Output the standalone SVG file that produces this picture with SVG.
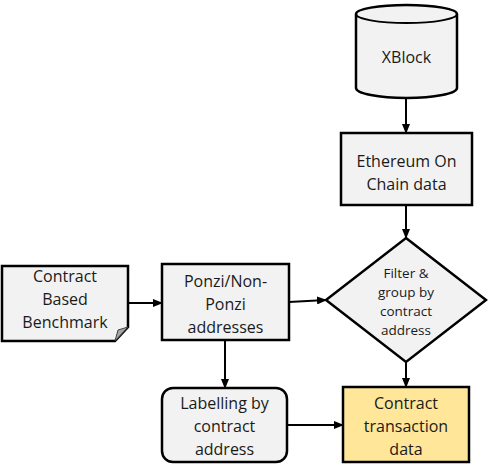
<svg xmlns="http://www.w3.org/2000/svg" width="488" height="464" viewBox="0 0 488 464">
<defs>
<marker id="ah" markerWidth="10" markerHeight="8" refX="9" refY="4" orient="auto" markerUnits="userSpaceOnUse">
<path d="M0,0 L10,4 L0,8 Z" fill="#000"/>
</marker>
<style>
.n{fill:#F2F2F2;stroke:#000;stroke-width:2.5}
.y{fill:#FFE699;stroke:#000;stroke-width:2.5}
.t{font-family:"Open Sans","Liberation Sans",sans-serif;font-size:16px;fill:#1a1a1a;text-anchor:middle}
.s{font-size:13.5px}
.c{stroke:#000;stroke-width:2;fill:none;marker-end:url(#ah)}
</style>
</defs>
<rect width="488" height="464" fill="#fff"/>
<g id="xblock">
<path class="n" d="M356,14 L356,88 A50.5,10 0 0 0 457,88 L457,14 A50.5,9 0 0 0 356,14 Z"/>
<path d="M356,14 A50.5,9 0 0 0 457,14" fill="none" stroke="#000" stroke-width="2"/>
<text class="t" x="406.5" y="63">XBlock</text>
</g>
<g id="ethereum">
<rect class="n" x="341" y="133" width="131" height="72"/>
<text class="t" x="406.5" y="167">Ethereum On</text>
<text class="t" x="406.5" y="190">Chain data</text>
</g>
<g id="filter">
<polygon class="n" points="406,238 486,300 406,362 326,300"/>
<text class="t s" x="406" y="278">Filter &amp;</text>
<text class="t s" x="406" y="297">group by</text>
<text class="t s" x="406" y="316">contract</text>
<text class="t s" x="406" y="335">address</text>
</g>
<g id="benchmark">
<path class="n" d="M2,266 L128,266 L128,327 L115,341 L2,341 Z"/>
<path d="M115,341 L118,330 L128,327 Z" fill="#A6A6A6" stroke="#404040" stroke-width="1"/>
<text class="t" x="65" y="282">Contract</text>
<text class="t" x="65" y="305">Based</text>
<text class="t" x="65" y="328">Benchmark</text>
</g>
<g id="ponzi">
<rect class="n" x="162" y="264" width="127" height="76"/>
<text class="t" x="225.5" y="287">Ponzi/Non-</text>
<text class="t" x="225.5" y="310">Ponzi</text>
<text class="t" x="225.5" y="333">addresses</text>
</g>
<g id="labelling">
<rect class="n" x="162" y="388" width="125" height="74" rx="11"/>
<text class="t" x="224.5" y="409">Labelling by</text>
<text class="t" x="224.5" y="432">contract</text>
<text class="t" x="224.5" y="455">address</text>
</g>
<g id="txdata">
<rect class="y" x="343" y="387" width="126" height="75"/>
<text class="t" x="406" y="409">Contract</text>
<text class="t" x="406" y="432">transaction</text>
<text class="t" x="406" y="455">data</text>
</g>
<g id="connectors">
<line class="c" x1="406" y1="98" x2="406" y2="133"/>
<line class="c" x1="406" y1="205" x2="406" y2="238"/>
<line class="c" x1="128" y1="303" x2="162" y2="303"/>
<line class="c" x1="289" y1="302" x2="326" y2="300"/>
<line class="c" x1="225" y1="340" x2="225" y2="388"/>
<line class="c" x1="406" y1="362" x2="406" y2="387"/>
<line class="c" x1="287" y1="425" x2="343" y2="425"/>
</g>
</svg>
